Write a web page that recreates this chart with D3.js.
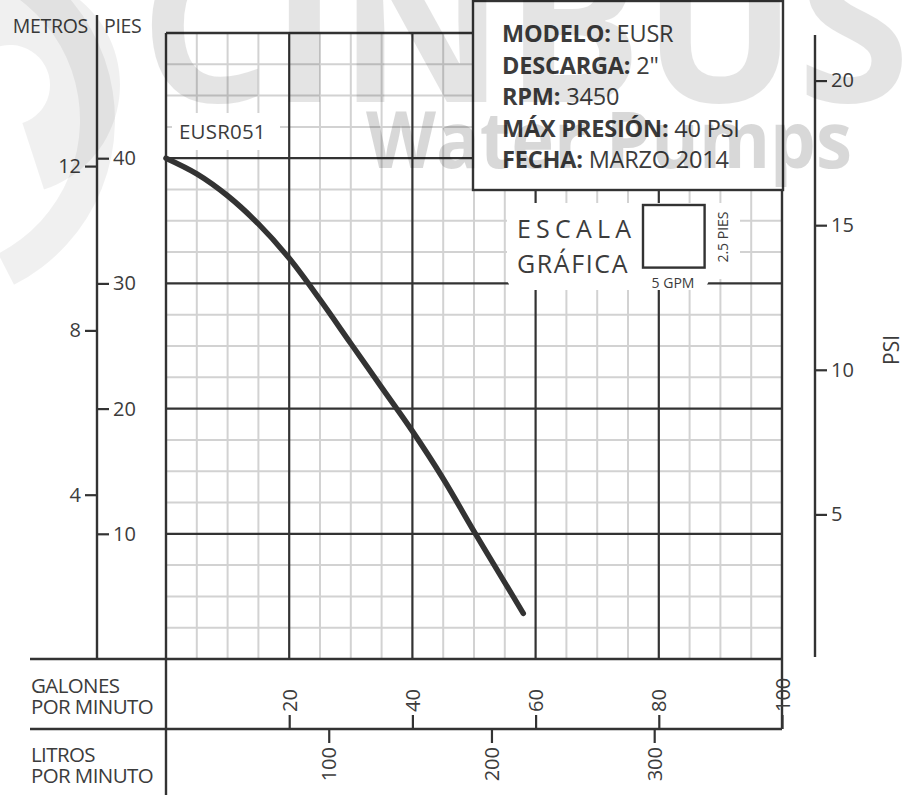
<!DOCTYPE html>
<html><head><meta charset="utf-8">
<script src="https://cdnjs.cloudflare.com/ajax/libs/d3/7.8.5/d3.min.js"></script>
<style>
body{margin:0;background:#fff;}
svg{display:block;font-family:"Open Sans",sans-serif;}
</style></head>
<body>
<svg id="c" width="911" height="795"></svg>
<script>
// ---- data ----
const gpm  = [0, 5, 10, 15, 20, 25, 30, 35, 40, 45, 50, 55, 58];
const headFt = [40, 38.75, 37.0, 34.75, 32.0, 28.7, 25.2, 21.7, 18.2, 14.4, 10.2, 6.1, 3.65];
const feetTicks = [10, 20, 30, 40];
const meterTicks = [4, 8, 12];
const psiTicks = [5, 10, 15, 20];
const gpmTicks = [20, 40, 60, 80, 100];
const lpmTicks = [100, 200, 300];
const infoLabels = ["MODELO:", "DESCARGA:", "RPM:", "MÁX PRESIÓN:", "FECHA:"];
const infoValues = [" EUSR", " 2\"", " 3450", " 40 PSI", " MARZO 2014"];
const seriesName = "EUSR051";

// ---- scales ----
const svg = d3.select("#c");
const x = d3.scaleLinear().domain([0, 100]).range([166, 782]);
const y = d3.scaleLinear().domain([0, 50]).range([659, 33]);
const FT_PER_M = 3.28084, FT_PER_PSI = 2.31, L_PER_GAL = 3.78541;
const yM = d3.scaleLinear().domain([0, 50 / FT_PER_M]).range([659, 33]);
const yPsi = d3.scaleLinear().domain([0, 50 / FT_PER_PSI]).range([659, 33]);
const xL = d3.scaleLinear().domain([0, 100 * L_PER_GAL]).range([166, 782]);

const dark = "#333", minorC = "#d2d2d2", txt = "#3c3c3c";

// ---- grid ----
const g = svg.append("g");
const minorX = d3.range(5, 100, 5).filter(v => v % 20 !== 0);
const minorY = d3.range(2.5, 50, 2.5).filter(v => v % 10 !== 0);
g.selectAll(".mx").data(minorX).join("line")
  .attr("x1", d => x(d)).attr("x2", d => x(d)).attr("y1", y(50)).attr("y2", y(0))
  .attr("stroke", minorC).attr("stroke-width", 2);
g.selectAll(".my").data(minorY).join("line")
  .attr("y1", d => y(d)).attr("y2", d => y(d)).attr("x1", x(0)).attr("x2", x(100))
  .attr("stroke", minorC).attr("stroke-width", 2);

// label backgrounds (cover minor grid)
svg.append("rect").attr("x", 172).attr("y", 113).attr("width", 108).attr("height", 37).attr("rx", 8).attr("fill", "#fff");

const majorX = [20, 40, 60, 80];
const majorY = [10, 20, 30, 40];
g.selectAll(".MX").data(majorX).join("line")
  .attr("x1", d => x(d)).attr("x2", d => x(d)).attr("y1", y(50)).attr("y2", y(0))
  .attr("stroke", dark).attr("stroke-width", 2.2);
g.selectAll(".MY").data(majorY).join("line")
  .attr("y1", d => y(d)).attr("y2", d => y(d)).attr("x1", x(0)).attr("x2", x(100))
  .attr("stroke", dark).attr("stroke-width", 2.2);
// plot border
svg.append("line").attr("x1", x(0)).attr("x2", x(100)).attr("y1", y(50)).attr("y2", y(50)).attr("stroke", dark).attr("stroke-width", 2.4);
svg.append("line").attr("x1", x(100)).attr("x2", x(100)).attr("y1", y(50)).attr("y2", 729).attr("stroke", dark).attr("stroke-width", 2.4);
svg.append("line").attr("x1", x(0)).attr("x2", x(0)).attr("y1", y(50)).attr("y2", 795).attr("stroke", dark).attr("stroke-width", 2.4);
svg.append("line").attr("x1", 30).attr("x2", x(100)).attr("y1", y(0)).attr("y2", y(0)).attr("stroke", dark).attr("stroke-width", 2.4);
svg.append("line").attr("x1", 30).attr("x2", x(100)).attr("y1", 729).attr("y2", 729).attr("stroke", dark).attr("stroke-width", 2.4);

// series label
svg.append("text").attr("x", 179).attr("y", 139).attr("font-size", 20.5).attr("fill", txt).attr("letter-spacing", 0.2).text(seriesName);

// ---- left axes ----
svg.append("line").attr("x1", 97).attr("x2", 97).attr("y1", 15).attr("y2", y(0)).attr("stroke", dark).attr("stroke-width", 2.4);
function styleAxis(sel) {
  sel.select(".domain").remove();
  sel.selectAll(".tick line").attr("stroke", dark).attr("stroke-width", 2.2);
  sel.selectAll(".tick text").attr("fill", txt).attr("font-size", 20).attr("font-family", "Open Sans");
}
svg.append("g").attr("transform", "translate(97,0)")
  .call(d3.axisRight(y).tickValues(feetTicks).tickSize(12).tickPadding(4)).call(styleAxis);
svg.append("g").attr("transform", "translate(97,0)")
  .call(d3.axisLeft(yM).tickValues(meterTicks).tickSize(12).tickPadding(4)).call(styleAxis);
svg.append("text").attr("x", 88).attr("y", 33).attr("text-anchor", "end").attr("font-size", 19.5).attr("letter-spacing", -0.3).attr("fill", txt).text("METROS");
svg.append("text").attr("x", 104).attr("y", 33).attr("font-size", 19.5).attr("letter-spacing", -0.3).attr("fill", txt).text("PIES");

// ---- right PSI axis ----
svg.append("line").attr("x1", 815).attr("x2", 815).attr("y1", 35).attr("y2", 657).attr("stroke", dark).attr("stroke-width", 2.4);
svg.append("g").attr("transform", "translate(815,0)")
  .call(d3.axisRight(yPsi).tickValues(psiTicks).tickSize(12).tickPadding(4)).call(styleAxis);
svg.append("text").attr("transform", "translate(899,350) rotate(-90)").attr("text-anchor", "middle")
  .attr("font-size", 21).attr("fill", txt).text("PSI");

// ---- bottom axes ----
const gx = svg.append("g").attr("transform", "translate(0,729)")
  .call(d3.axisTop(x).tickValues(gpmTicks).tickSize(14)).call(styleAxis);
gx.selectAll(".tick text").attr("transform", "rotate(-90)").attr("x", 17).attr("y", 0).attr("dy", "0.35em").style("text-anchor", "start");
const gl = svg.append("g").attr("transform", "translate(0,729)")
  .call(d3.axisBottom(xL).tickValues(lpmTicks).tickSize(14)).call(styleAxis);
gl.selectAll(".tick text").attr("transform", "rotate(-90)").attr("x", -18).attr("y", 0).attr("dy", "0.35em").style("text-anchor", "end");

const lbl = [["GALONES", 693], ["POR MINUTO", 714], ["LITROS", 762], ["POR MINUTO", 783]];
svg.selectAll(".axl").data(lbl).join("text").attr("x", 31).attr("y", d => d[1])
  .attr("font-size", 20.5).attr("fill", txt).attr("letter-spacing", -0.6).text(d => d[0]);

// ---- curve ----
const pts = gpm.map((v, i) => [v, headFt[i]]);
svg.append("path").datum(pts)
  .attr("d", d3.line().x(d => x(d[0])).y(d => y(d[1])).curve(d3.curveCatmullRom))
  .attr("fill", "none").attr("stroke", "#333").attr("stroke-width", 5.5).attr("stroke-linecap", "round");

// ---- escala grafica ----
svg.append("rect").attr("x", 507).attr("y", 203).attr("width", 202).attr("height", 87).attr("rx", 12).attr("fill", "#fff");
svg.append("rect").attr("x", 700).attr("y", 203).attr("width", 40).attr("height", 76).attr("rx", 10).attr("fill", "#fff");
svg.append("text").attr("x", 517).attr("y", 238).attr("font-size", 25).attr("fill", txt).attr("letter-spacing", 5.2).text("ESCALA");
svg.append("text").attr("x", 517).attr("y", 273).attr("font-size", 25).attr("fill", txt).attr("letter-spacing", 1.6).text("GRÁFICA");
svg.append("rect").attr("x", 643).attr("y", 205).attr("width", x(10) - x(0)).attr("height", y(0) - y(5))
  .attr("fill", "#fff").attr("stroke", dark).attr("stroke-width", 2.4);
svg.append("text").attr("x", 673).attr("y", 288).attr("text-anchor", "middle").attr("font-size", 14).attr("fill", txt).text("5 GPM");
svg.append("text").attr("transform", "translate(728,237) rotate(-90)").attr("text-anchor", "middle").attr("font-size", 14).attr("fill", txt).text("2.5 PIES");

// ---- info box ----
svg.append("rect").attr("x", 473).attr("y", 1).attr("width", 310).attr("height", 189)
  .attr("fill", "#fff").attr("stroke", dark).attr("stroke-width", 2.4);
infoLabels.forEach((l, i) => {
  const t = svg.append("text").attr("x", 502).attr("y", 42 + i * 31.5).attr("font-size", 23.5).attr("letter-spacing", -0.2).attr("fill", txt);
  t.append("tspan").attr("font-weight", 700).text(l);
  t.append("tspan").attr("font-weight", 400).text(infoValues[i]);
});

// ---- watermark (overlay) ----
const wm = svg.append("g").attr("pointer-events", "none");
wm.append("path").attr("d", d3.arc()({innerRadius: 150, outerRadius: 185, startAngle: -0.2, endAngle: Math.PI * 0.85}))
  .attr("transform", "translate(-70,120)").attr("fill", "#000").attr("opacity", 0.06);
wm.append("path").attr("d", d3.arc()({innerRadius: 40, outerRadius: 110, startAngle: -1.2, endAngle: Math.PI * 0.9}))
  .attr("transform", "translate(10,85)").attr("fill", "#000").attr("opacity", 0.06);
wm.append("text").attr("x", 140).attr("y", 102).attr("font-size", 215).attr("font-weight", 700)
  .attr("textLength", 770).attr("lengthAdjust", "spacingAndGlyphs")
  .attr("fill", "#000").attr("opacity", 0.1).text("CINBUS");
wm.append("text").attr("x", 366).attr("y", 168).attr("font-size", 78).attr("font-weight", 700)
  .attr("textLength", 486).attr("lengthAdjust", "spacingAndGlyphs")
  .attr("fill", "#000").attr("opacity", 0.15).text("Water Pumps");
</script>
</body></html>
